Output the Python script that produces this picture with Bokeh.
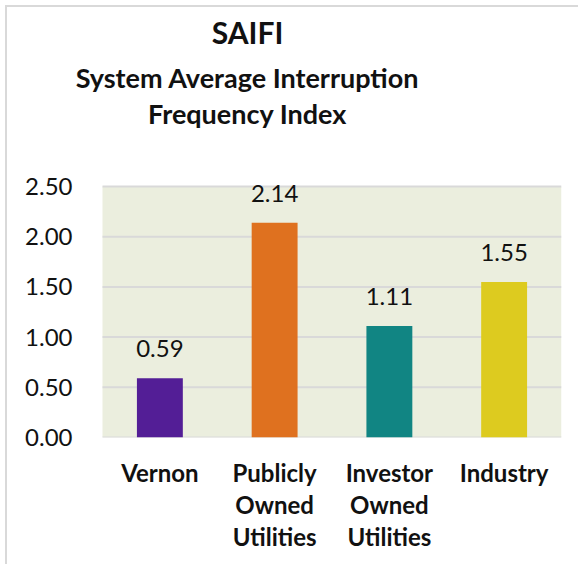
from bokeh.plotting import figure
from bokeh.models import (ColumnDataSource, FixedTicker, NumeralTickFormatter, LabelSet,
                          Range1d, BoxAnnotation)
from bokeh.core.properties import value
from bokeh.embed import file_html
from bokeh.resources import INLINE

categories = ["Vernon", "Publicly\nOwned\nUtilities", "Investor\nOwned\nUtilities", "Industry"]
values = [0.59, 2.14, 1.11, 1.55]
value_labels = ["0.59", "2.14", "1.11", "1.55"]
colors = ["#531E96", "#DF711F", "#118583", "#DDCB1F"]
y_ticks = [0.0, 0.5, 1.0, 1.5, 2.0, 2.5]
title_lines = ["SAIFI", "System Average Interruption", "Frequency Index"]

FONT = "Lato"

# ---- layout constants (pixels) ----
W, H = 573, 559
PLOT_LEFT, PLOT_W = 95, 459          # plot area inside the canvas
PLOT_H, FRAME_H = 251, 430            # plot area height / frame height (frame also hosts the title block)
FRAME_LEFT = 65                       # frame starts left of the plot area so the title is not clipped

n = len(categories)
px_x = PLOT_W / n
px_y = PLOT_H / y_ticks[-1]
x_start = -(PLOT_LEFT - FRAME_LEFT) / px_x
y_top = FRAME_H / px_y

centers = [i + 0.5 for i in range(n)]
src = ColumnDataSource(dict(x=centers, val=values, lab=value_labels, col=colors))

p = figure(x_range=Range1d(x_start, n), y_range=Range1d(0, y_top),
           width=W, height=H, output_backend="svg", toolbar_location=None,
           min_border_left=FRAME_LEFT, min_border_right=W - PLOT_LEFT - PLOT_W,
           min_border_top=0, min_border_bottom=H - FRAME_H)
p.styles = {"margin-left": "5px", "margin-top": "5px",
            "border-left": "2px solid #D9D9D9", "border-top": "2px solid #D9D9D9"}

p.background_fill_color = "white"
p.border_fill_color = "white"
p.outline_line_color = None
p.xgrid.visible = False
p.ygrid.visible = False

# plot-area background and horizontal gridlines (only across the plot area)
p.add_layout(BoxAnnotation(left=0, right=n, bottom=y_ticks[0], top=y_ticks[-1],
                           fill_color="#EBEEDE", fill_alpha=1, line_color=None, level="image"))
p.segment(x0=[0] * len(y_ticks), x1=[n] * len(y_ticks), y0=y_ticks, y1=y_ticks,
          line_color="#D9D9D9", line_width=2, level="underlay")

p.vbar(x="x", top="val", width=0.4, color="col", source=src, line_color=None)

p.add_layout(LabelSet(x="x", y="val", text="lab", source=src, text_align="center",
                      text_baseline="alphabetic", y_offset=21, text_font=value(FONT),
                      text_font_size=value("24px"), text_color=value("#111111")))

# y axis
p.yaxis.ticker = FixedTicker(ticks=y_ticks)
p.yaxis.formatter = NumeralTickFormatter(format="0.00")
p.yaxis.axis_line_color = None
p.yaxis.major_tick_line_color = None
p.yaxis.minor_tick_line_color = None
p.yaxis.major_tick_out = 0
p.yaxis.major_tick_in = 0
p.yaxis.major_label_standoff = 0
p.yaxis.major_label_text_font = FONT
p.yaxis.major_label_text_font_size = "24px"
p.yaxis.major_label_text_color = "#111111"

# x axis (category names at bar centres)
p.xaxis.ticker = FixedTicker(ticks=centers)
p.xaxis.major_label_overrides = {c: lab for c, lab in zip(centers, categories)}
p.xaxis.axis_line_color = None
p.xaxis.major_tick_line_color = None
p.xaxis.minor_tick_line_color = None
p.xaxis.major_tick_out = 0
p.xaxis.major_tick_in = 0
p.xaxis.major_label_standoff = 20
p.xaxis.major_label_text_font = FONT
p.xaxis.major_label_text_font_size = "24px"
p.xaxis.major_label_text_font_style = "bold"
p.xaxis.major_label_text_color = "#111111"
p.xaxis.major_label_text_line_height = 1.11

# title block (inside the frame, above the plot area)
title_x = (240 - PLOT_LEFT) / px_x
tsrc = ColumnDataSource(dict(
    x=[title_x] * 3,
    y=[(FRAME_H - 36) / px_y, (FRAME_H - 80) / px_y, (FRAME_H - 116) / px_y],
    t=title_lines,
    fs=["30px", "27px", "27px"],
))
p.add_layout(LabelSet(x="x", y="y", text="t", source=tsrc, text_align="center",
                      text_baseline="alphabetic", text_font=value(FONT), text_font_size="fs",
                      text_font_style=value("bold"), text_color=value("#111111")))

open("out.html", "w").write(file_html(p, INLINE))
